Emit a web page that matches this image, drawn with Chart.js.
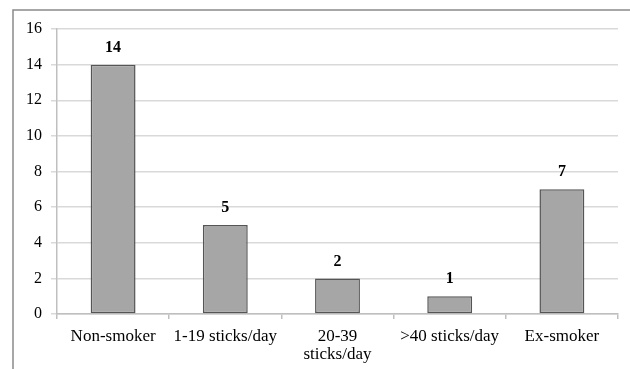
<!DOCTYPE html>
<html lang="en">
<head>
    <meta charset="UTF-8">
    <title>Smoking status</title>
    <script src="https://cdn.jsdelivr.net/npm/chart.js"></script>
    <style>
        html, body { margin: 0; padding: 0; background: #fff; }
        #wrap { width: 630px; height: 369px; }
    </style>
</head>
<body>
    <div id="wrap"><canvas id="myChart" width="630" height="369"></canvas></div>
    <script>
        const categories = ['Non-smoker', '1-19 sticks/day', ['20-39', 'sticks/day'], '>40 sticks/day', 'Ex-smoker'];
        const counts = [14, 5, 2, 1, 7];
        const yTicks = [0, 2, 4, 6, 8, 10, 12, 14, 16];

        const serif = "'Liberation Serif', 'Times New Roman', serif";

        // frame around the whole chart + value labels above bars
        const extras = {
            id: 'extras',
            beforeDraw(chart) {
                const c = chart.ctx;
                c.save();
                c.strokeStyle = '#8a8a8a';
                c.lineWidth = 1.5;
                c.beginPath();
                c.moveTo(13, 380);
                c.lineTo(13, 10);
                c.lineTo(640, 10);
                c.stroke();
                c.restore();
            },
            afterDatasetsDraw(chart) {
                const c = chart.ctx;
                const meta = chart.getDatasetMeta(0);
                c.save();
                c.font = 'bold 16px ' + serif;
                c.fillStyle = '#000';
                c.textAlign = 'center';
                c.textBaseline = 'middle';
                meta.data.forEach(function(bar, i) {
                    c.fillText(counts[i], bar.x, bar.y - 17);
                });
                c.restore();
            }
        };

        new Chart(document.getElementById('myChart'), {
            type: 'bar',
            data: {
                labels: categories,
                datasets: [{
                    data: counts,
                    backgroundColor: '#a6a6a6',
                    borderColor: '#555555',
                    borderWidth: 1.5,
                    borderSkipped: false,
                    barPercentage: 0.4,
                    categoryPercentage: 1
                }]
            },
            options: {
                responsive: false,
                animation: false,
                layout: { padding: { left: 13, right: 12, top: 29, bottom: 0 } },
                plugins: {
                    legend: { display: false },
                    tooltip: { enabled: false }
                },
                scales: {
                    x: {
                        afterFit(scale) { scale.height = 55; },
                        grid: {
                            offset: true,
                            drawOnChartArea: false,
                            drawTicks: true,
                            tickLength: 5,
                            color: '#bfbfbf',
                            lineWidth: 1.5
                        },
                        border: { color: '#bfbfbf', width: 1.5 },
                        ticks: {
                            font: { family: serif, size: 17, lineHeight: 1.05 },
                            color: '#000',
                            padding: 9,
                            maxRotation: 0,
                            autoSkip: false
                        }
                    },
                    y: {
                        min: 0,
                        max: 16,
                        afterFit(scale) { scale.width = 44; },
                        afterBuildTicks(scale) {
                            scale.ticks = yTicks.map(function(v) { return { value: v }; });
                        },
                        grid: {
                            color: '#d9d9d9',
                            lineWidth: 1.5,
                            tickLength: 6,
                            drawTicks: true
                        },
                        border: { color: '#bfbfbf', width: 1.5 },
                        ticks: {
                            font: { family: serif, size: 16 },
                            color: '#000',
                            padding: 9
                        }
                    }
                }
            },
            plugins: [extras]
        });
    </script>
</body>
</html>
